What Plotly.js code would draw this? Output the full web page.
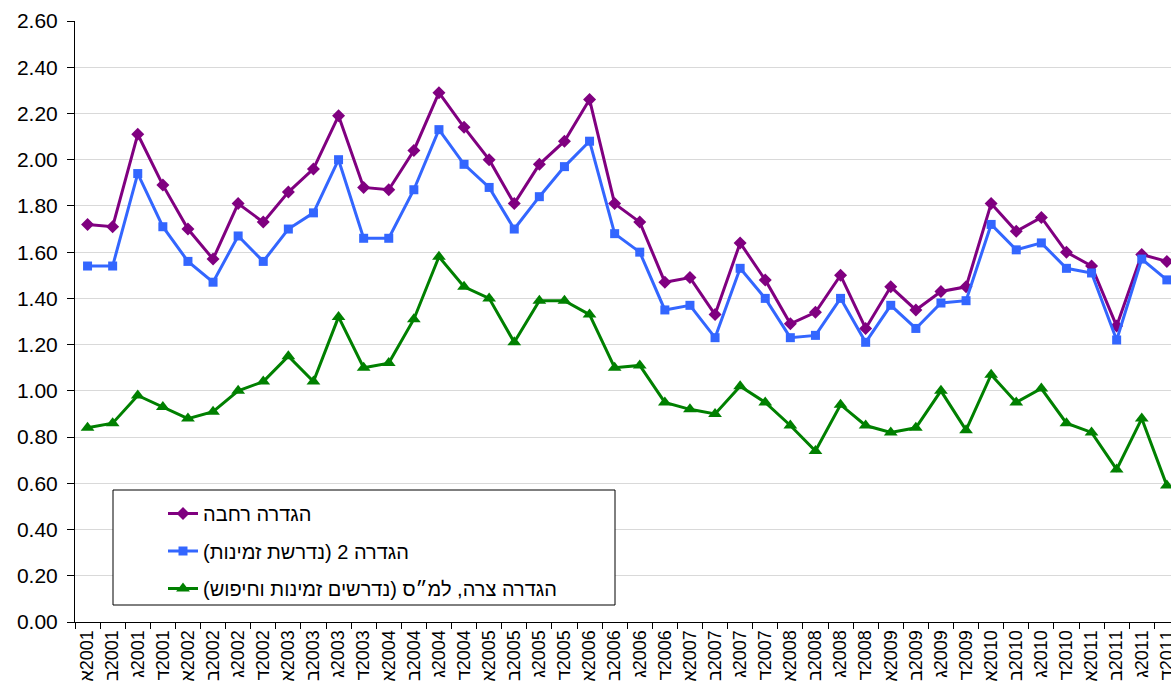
<!DOCTYPE html>
<html>
<head>
<meta charset="utf-8">
<script src="https://cdn.plot.ly/plotly-3.0.1.min.js"></script>
<style>html,body{margin:0;padding:0;background:#fff;}#chart{width:1171px;height:684px;}</style>
</head>
<body>
<div id="chart"></div>
<script>
const quarters = ["א","ב","ג","ד"];
const years = [2001,2002,2003,2004,2005,2006,2007,2008,2009,2010,2011];
const categories = [];
years.forEach(y => quarters.forEach(q => categories.push(q + "\u200E" + y)));

const seriesNames = [
  "הגדרה רחבה",
  "הגדרה 2 (נדרשת זמינות)",
  "הגדרה צרה, למ״ס (נדרשים זמינות וחיפוש)"
];

const wideDef = [1.72,1.71,2.11,1.89,1.70,1.57,1.81,1.73,1.86,1.96,2.19,1.88,1.87,2.04,2.29,2.14,
  2.00,1.81,1.98,2.08,2.26,1.81,1.73,1.47,1.49,1.33,1.64,1.48,1.29,1.34,1.50,1.27,
  1.45,1.35,1.43,1.45,1.81,1.69,1.75,1.60,1.54,1.28,1.59,1.56];
const def2 = [1.54,1.54,1.94,1.71,1.56,1.47,1.67,1.56,1.70,1.77,2.00,1.66,1.66,1.87,2.13,1.98,
  1.88,1.70,1.84,1.97,2.08,1.68,1.60,1.35,1.37,1.23,1.53,1.40,1.23,1.24,1.40,1.21,
  1.37,1.27,1.38,1.39,1.72,1.61,1.64,1.53,1.51,1.22,1.57,1.48];
const narrowDef = [0.84,0.86,0.98,0.93,0.88,0.91,1.00,1.04,1.15,1.04,1.32,1.10,1.12,1.31,1.58,1.45,
  1.40,1.21,1.39,1.39,1.33,1.10,1.11,0.95,0.92,0.90,1.02,0.95,0.85,0.74,0.94,0.85,
  0.82,0.84,1.00,0.83,1.07,0.95,1.01,0.86,0.82,0.66,0.88,0.59];

const colors = ["#800080","#3366FF","#008000"];
const symbols = ["diamond","square","triangle-up"];
const sizes = [10,9,12];
const values = [wideDef, def2, narrowDef];

const traces = values.map((v,i) => ({
  type: "scatter",
  mode: "lines+markers",
  x: categories,
  y: v,
  name: seriesNames[i] + "\u200F",
  legendgroup: "g" + i,
  line: {color: colors[i], width: 3},
  marker: {color: colors[i], symbol: symbols[i], size: sizes[i]},
  cliponaxis: false
}));

const L = 75, R = 0, T = 21, B = 62;
const plotW = 1171 - L - R, plotH = 684 - T - B;
const catW = 25.1;
const xMax = -0.5 + plotW / catW;

const layout = {
  width: 1171, height: 684,
  margin: {l: L, r: R, t: T, b: B},
  paper_bgcolor: "#fff", plot_bgcolor: "#fff",
  font: {family: "Liberation Sans, Arial, sans-serif", color: "#000"},
  showlegend: true,
  legend: {
    x: (163 - L) / plotW, y: (622 - 494) / plotH,
    xanchor: "left", yanchor: "top",
    bgcolor: "rgba(0,0,0,0)", borderwidth: 0,
    font: {size: 20, family: "Liberation Sans, Arial, sans-serif", color: "#000"},
    tracegroupgap: 8.5,
    traceorder: "grouped"
  },
  xaxis: {
    type: "category",
    range: [-0.5, xMax],
    tickangle: -90,
    tickson: "boundaries",
    ticks: "outside", ticklen: 6, tickcolor: "#000", tickwidth: 1,
    showline: true, linecolor: "#000", linewidth: 1,
    showgrid: false, zeroline: false,
    tickfont: {size: 18, family: "Liberation Sans, Arial, sans-serif", color: "#000"},
    fixedrange: true
  },
  yaxis: {
    range: [0, 2.6],
    dtick: 0.2, tick0: 0,
    tickformat: ".2f",
    ticks: "outside", ticklen: 7, tickcolor: "#000", tickwidth: 1,
    ticklabelstandoff: 5,
    showline: true, linecolor: "#000", linewidth: 1,
    showgrid: true, gridcolor: "#d9d9d9", gridwidth: 1,
    zeroline: false,
    tickfont: {size: 21, family: "Liberation Sans, Arial, sans-serif", color: "#000"},
    fixedrange: true
  },
  shapes: [{
    type: "rect", xref: "paper", yref: "paper",
    x0: (113 - L) / plotW, x1: (615 - L) / plotW,
    y0: (622 - 605) / plotH, y1: (622 - 490) / plotH,
    line: {color: "#000", width: 1}, fillcolor: "#fff", layer: "above"
  }]
};

Plotly.newPlot("chart", traces, layout, {displayModeBar: false, staticPlot: true});
</script>
</body>
</html>
